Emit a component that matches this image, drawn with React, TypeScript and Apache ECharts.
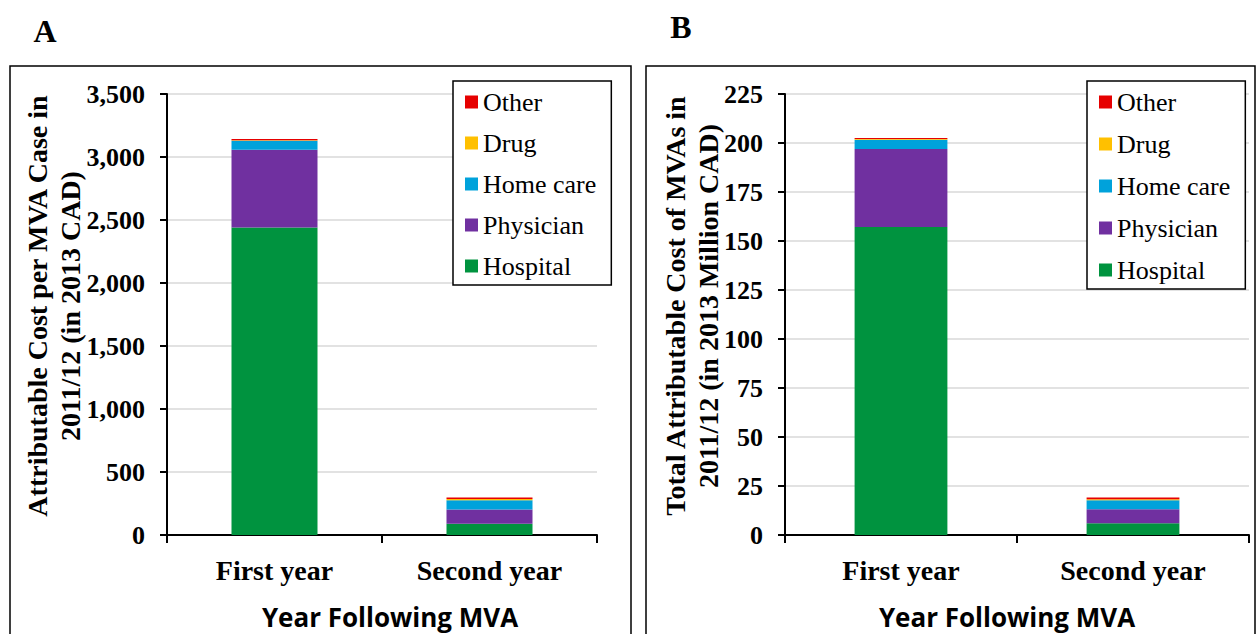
import React, { useEffect, useRef } from "react";
import * as echarts from "echarts";

const categories = ["First year", "Second year"];
const legendOrder = ["Other", "Drug", "Home care", "Physician", "Hospital"];

// Panel A: attributable cost per MVA case (2013 CAD)
const hospitalA = [2440, 90];
const physicianA = [617, 113];
const homeCareA = [71, 72];
const drugA = [5, 10];
const otherA = [9, 12];

// Panel B: total attributable cost of MVAs (2013 million CAD)
const hospitalB = [157.2, 6.0];
const physicianB = [39.8, 7.1];
const homeCareB = [4.6, 4.6];
const drugB = [0.4, 0.6];
const otherB = [0.6, 0.8];

const colors: Record<string, string> = {
  Hospital: "#00933F",
  Physician: "#7030A0",
  "Home care": "#00A2DB",
  Drug: "#FFC000",
  Other: "#E60000",
};

const SERIF = '"Liberation Serif", "Times New Roman", serif';
const SANS = '"Open Sans", "Liberation Sans", sans-serif';

function stackSeries(idx: number, stack: string, sets: [string, number[]][]) {
  return sets.map(([name, data]) => ({
    type: "bar",
    name,
    stack,
    xAxisIndex: idx,
    yAxisIndex: idx,
    barWidth: "40%",
    data,
    itemStyle: { color: colors[name] },
  }));
}

function yAxisCfg(idx: number, max: number, interval: number, commas: boolean) {
  return {
    type: "value",
    gridIndex: idx,
    min: 0,
    max,
    interval,
    axisLine: { show: true, lineStyle: { color: "#000", width: 2 } },
    axisTick: { show: true, inside: false, length: 7, lineStyle: { color: "#000", width: 2 } },
    splitLine: { show: true, lineStyle: { color: "#D9D9D9", width: 1.5 } },
    axisLabel: {
      color: "#000",
      fontFamily: SERIF,
      fontWeight: "bold",
      fontSize: 26,
      margin: 22,
      formatter: (v: number) => (commas ? v.toLocaleString("en-US") : String(v)),
    },
  };
}

function xAxisCfg(idx: number) {
  return {
    type: "category",
    gridIndex: idx,
    data: categories,
    axisLine: { show: true, lineStyle: { color: "#000", width: 2 } },
    axisTick: { show: true, inside: false, length: 8, lineStyle: { color: "#000", width: 2 } },
    axisLabel: {
      color: "#000",
      fontFamily: SERIF,
      fontWeight: "bold",
      fontSize: 28,
      margin: 21,
    },
  };
}

function legendCfg(left: number, top: number, gap: number, padRight: number) {
  return {
    orient: "vertical",
    left,
    top,
    data: legendOrder,
    icon: "rect",
    itemWidth: 13,
    itemHeight: 13,
    itemGap: gap,
    padding: [8, padRight, 6, 12],
    borderColor: "#000",
    borderWidth: 1.5,
    backgroundColor: "#fff",
    selectedMode: false,
    textStyle: { color: "#000", fontFamily: SERIF, fontSize: 26, lineHeight: 26 },
  };
}

export default function App() {
  const ref = useRef<HTMLDivElement>(null);
  useEffect(() => {
    if (!ref.current) return;
    const chart = echarts.init(ref.current, null, { renderer: "svg" });
    chart.setOption({
      animation: false,
      backgroundColor: "#fff",
      grid: [
        { left: 167, top: 94, width: 430, height: 441 },
        { left: 785, top: 94, width: 464, height: 441 },
      ],
      xAxis: [xAxisCfg(0), xAxisCfg(1)],
      yAxis: [yAxisCfg(0, 3500, 500, true), yAxisCfg(1, 225, 25, false)],
      legend: [legendCfg(453, 81, 15, 15), legendCfg(1087, 81, 16, 15)],
      series: [
        ...stackSeries(0, "a", [
          ["Hospital", hospitalA],
          ["Physician", physicianA],
          ["Home care", homeCareA],
          ["Drug", drugA],
          ["Other", otherA],
        ]),
        ...stackSeries(1, "b", [
          ["Hospital", hospitalB],
          ["Physician", physicianB],
          ["Home care", homeCareB],
          ["Drug", drugB],
          ["Other", otherB],
        ]),
      ],
      graphic: [
        { type: "rect", shape: { x: 10, y: 66, width: 621, height: 600 }, style: { fill: "none", stroke: "#000", lineWidth: 1.5 }, z: -1 },
        { type: "rect", shape: { x: 646, y: 66, width: 609, height: 600 }, style: { fill: "none", stroke: "#000", lineWidth: 1.5 }, z: -1 },
        { type: "text", x: 45, y: 31, style: { text: "A", font: `bold 32px ${SERIF}`, fill: "#000", align: "center", verticalAlign: "middle" } },
        { type: "text", x: 681, y: 27, style: { text: "B", font: `bold 32px ${SERIF}`, fill: "#000", align: "center", verticalAlign: "middle" } },
        {
          type: "text", x: 54, y: 306, rotation: Math.PI / 2,
          style: { text: "Attributable Cost per MVA Case in\n2011/12 (in 2013 CAD)", font: `bold 28px ${SERIF}`, lineHeight: 33, fill: "#000", align: "center", verticalAlign: "middle" },
        },
        {
          type: "text", x: 692, y: 306, rotation: Math.PI / 2,
          style: { text: "Total Attributable Cost of MVAs in\n2011/12 (in 2013 Million CAD)", font: `bold 28px ${SERIF}`, lineHeight: 33, fill: "#000", align: "center", verticalAlign: "middle" },
        },
        { type: "text", x: 390, y: 617, style: { text: "Year Following MVA", font: `bold 26px ${SANS}`, fill: "#000", align: "center", verticalAlign: "middle" } },
        { type: "text", x: 1007, y: 617, style: { text: "Year Following MVA", font: `bold 26px ${SANS}`, fill: "#000", align: "center", verticalAlign: "middle" } },
      ],
    });
    return () => chart.dispose();
  }, []);
  return <div ref={ref} style={{ position: "fixed", left: 0, top: 0, width: 1258, height: 634 }} />;
}
